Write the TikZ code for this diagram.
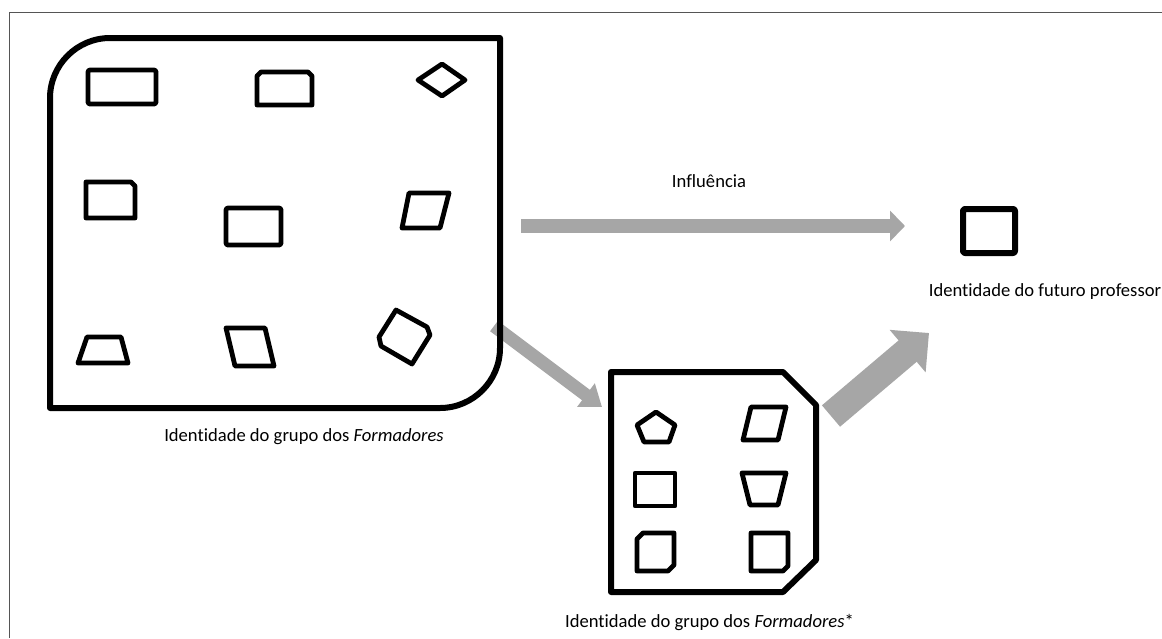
\documentclass[tikz,border=0pt]{standalone}
\usepackage{fontspec}
\setmainfont{Carlito}[Ligatures=NoCommon]
\usetikzlibrary{arrows.meta}
\definecolor{arrowgray}{HTML}{A6A6A6}
\definecolor{framegray}{HTML}{555555}
\begin{document}
\begin{tikzpicture}[x=1pt,y=-1pt,
  fig/.style={draw=black, line width=4.8pt, line join=round},
  outline/.style={draw=black, line width=6pt, line join=round},
  lbl/.style={font=\fontsize{18.6}{22}\selectfont, inner sep=0pt, anchor=base},
  flow/.style={draw=arrowgray, line cap=butt}]
\useasboundingbox (0,0) rectangle (1162,638);
\fill[white] (0,0) rectangle (1162,638);
\draw[framegray, line width=1.3pt] (9.5,638) -- (9.5,12.5) -- (1162,12.5);

% connectors
\coordinate (infS) at (521,226);
\coordinate (infE) at (905,226);
\coordinate (d1S) at (494,326);
\coordinate (d1E) at (602,407);
\coordinate (d2S) at (831,416);
\coordinate (d2E) at (929,333);
\draw[flow, line width=14pt, -{Triangle[length=15pt,width=30pt]}] (infS) -- (infE);
\draw[flow, line width=13pt, -{Triangle[length=20pt,width=28pt]}] (d1S) -- (d1E);
\draw[flow, line width=28pt, -{Triangle[length=28pt,width=54pt]}] (d2S) -- (d2E);

% big group box
\draw[outline] (50,408) -- (50,98) .. controls (50,65) and (77,38) .. (110,38)
  -- (500,38) -- (500,348) .. controls (500,381) and (473,408) .. (440,408) -- cycle;
\draw[fig, rounded corners=2pt] (88,70) rectangle (156,104);
\draw[fig] (257,105) -- (257,76) -- (261,72) -- (308,72) -- (312,76) -- (312,105) -- cycle;
\draw[fig] (418,80) -- (442,64) -- (465,80) -- (442,96) -- cycle;
\draw[fig] (86,182) -- (131,182) -- (135,186) -- (135,218) -- (86,218) -- cycle;
\draw[fig, rounded corners=2pt] (226,208) rectangle (281,245);
\draw[fig] (409,193) -- (449,193) -- (440,228) -- (402,228) -- cycle;
\draw[fig] (87,337) -- (121,337) -- (128,363) -- (78,363) -- cycle;
\draw[fig] (226,328) -- (265,328) -- (274,366) -- (235,366) -- cycle;
\draw[fig] (396,310) -- (427,327) -- (430,335) -- (412,364) -- (381,346) -- (379,337) -- cycle;
\node[lbl] (lblA) at (304,441) {Identidade do grupo dos \textit{Formadores}};

% small group box
\draw[outline] (611,372) -- (783,372) -- (816,405) -- (816,560) -- (783,592) -- (611,592) -- cycle;
\draw[fig] (656,412) -- (675,425) -- (669,442) -- (644,442) -- (637,425) -- cycle;
\draw[fig] (751,407) -- (786,407) -- (778,440) -- (743,440) -- cycle;
\draw[fig] (635,473) rectangle (675,506);
\draw[fig] (742,473) -- (786,473) -- (778,505) -- (750,505) -- cycle;
\draw[fig] (643,533) -- (674,533) -- (674,565) -- (668,571) -- (637,571) -- (637,539) -- cycle;
\draw[fig] (751,533) -- (788,533) -- (788,566) -- (783,571) -- (751,571) -- cycle;
\node[lbl] (lblB) at (709.5,627) {Identidade do grupo dos \textit{Formadores}*};

% future teacher
\draw[outline, rounded corners=2pt] (963,209) rectangle (1015,253);
\node[lbl] (lblC) at (1045,296) {Identidade do futuro professor};
\node[lbl] (lblInf) at (709,187) {Influência};
\end{tikzpicture}
\end{document}
